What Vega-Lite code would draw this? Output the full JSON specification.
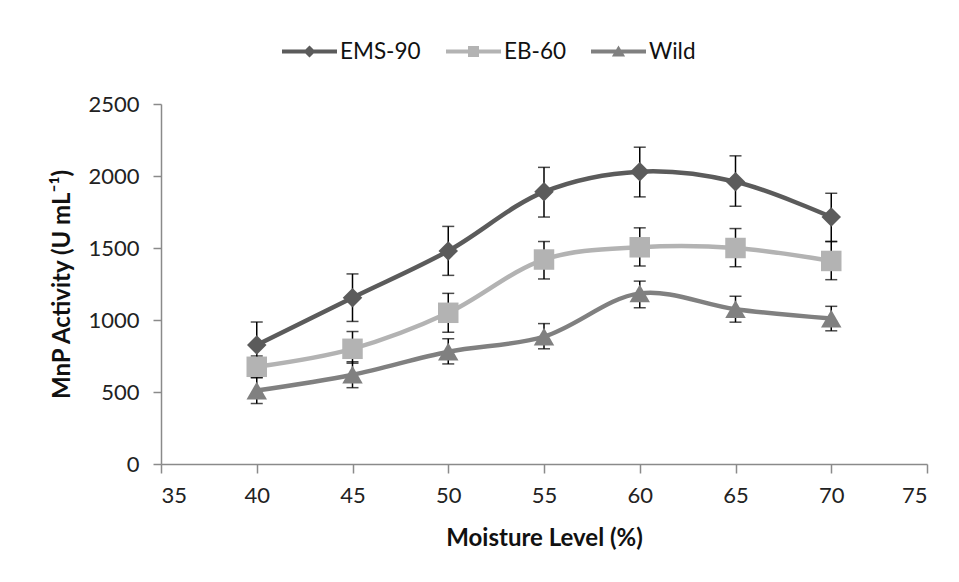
{
  "$schema": "https://vega.github.io/schema/vega-lite/v6.json",
  "width": 766,
  "height": 360,
  "autosize": {"type": "none"},
  "padding": {"left": 161, "top": 104, "right": 32, "bottom": 118},
  "background": "white",
  "config": {
    "font": "Lato",
    "view": {"stroke": null},
    "axis": {
      "domainColor": "#8a8a8a",
      "domainWidth": 1.5,
      "tickColor": "#8a8a8a",
      "tickWidth": 1.5,
      "grid": false,
      "labelFont": "Lato",
      "labelFontSize": 22,
      "labelColor": "#222222",
      "titleFont": "Lato",
      "titleFontSize": 24,
      "titleFontWeight": "bold",
      "titleColor": "#111111"
    }
  },
  "data": {
    "values": [
      {"series": "EMS-90", "x": 40, "y": 826, "lo": 666, "hi": 986},
      {"series": "EMS-90", "x": 45, "y": 1155, "lo": 990, "hi": 1320},
      {"series": "EMS-90", "x": 50, "y": 1480, "lo": 1310, "hi": 1650},
      {"series": "EMS-90", "x": 55, "y": 1890, "lo": 1715, "hi": 2060},
      {"series": "EMS-90", "x": 60, "y": 2030, "lo": 1855, "hi": 2200},
      {"series": "EMS-90", "x": 65, "y": 1960, "lo": 1790, "hi": 2140},
      {"series": "EMS-90", "x": 70, "y": 1715, "lo": 1545, "hi": 1880},
      {"series": "EB-60", "x": 40, "y": 675, "lo": 600, "hi": 750},
      {"series": "EB-60", "x": 45, "y": 800, "lo": 700, "hi": 920},
      {"series": "EB-60", "x": 50, "y": 1050, "lo": 915, "hi": 1185},
      {"series": "EB-60", "x": 55, "y": 1420, "lo": 1285, "hi": 1545},
      {"series": "EB-60", "x": 60, "y": 1505, "lo": 1375, "hi": 1640},
      {"series": "EB-60", "x": 65, "y": 1500, "lo": 1370, "hi": 1635},
      {"series": "EB-60", "x": 70, "y": 1410, "lo": 1280, "hi": 1545},
      {"series": "Wild", "x": 40, "y": 510, "lo": 420, "hi": 600},
      {"series": "Wild", "x": 45, "y": 620, "lo": 530, "hi": 710},
      {"series": "Wild", "x": 50, "y": 780, "lo": 695, "hi": 870},
      {"series": "Wild", "x": 55, "y": 885, "lo": 800, "hi": 975},
      {"series": "Wild", "x": 60, "y": 1185, "lo": 1085, "hi": 1270},
      {"series": "Wild", "x": 65, "y": 1075, "lo": 985, "hi": 1165},
      {"series": "Wild", "x": 70, "y": 1010, "lo": 925, "hi": 1095}
    ]
  },
  "encoding": {
    "x": {
      "field": "x", "type": "quantitative",
      "scale": {"domain": [35, 75], "nice": false, "zero": false},
      "axis": {"values": [35, 40, 45, 50, 55, 60, 65, 70, 75], "tickSize": 9, "labelPadding": 12, "title": "Moisture Level (%)", "titlePadding": 20}
    },
    "y": {
      "field": "y", "type": "quantitative",
      "title": "MnP Activity (U mL⁻¹)",
      "scale": {"domain": [0, 2500], "nice": false},
      "axis": {"values": [0, 500, 1000, 1500, 2000, 2500], "format": "d", "tickSize": 8, "labelPadding": 14, "titlePadding": 13}
    }
  },
  "layer": [
    {
      "transform": [{"filter": "datum.series === 'EMS-90'"}],
      "mark": {"type": "line", "strokeWidth": 4.5, "interpolate": "catmull-rom", "color": "#5b5b5b"},
      "encoding": {}
    },
    {
      "transform": [{"filter": "datum.series === 'EB-60'"}],
      "mark": {"type": "line", "strokeWidth": 4.5, "interpolate": "catmull-rom", "color": "#b3b3b3"},
      "encoding": {}
    },
    {
      "transform": [{"filter": "datum.series === 'Wild'"}],
      "mark": {"type": "line", "strokeWidth": 4.5, "interpolate": "catmull-rom", "color": "#808080"},
      "encoding": {}
    },
    {
      "mark": {"type": "errorbar", "color": "black", "thickness": 1.5, "ticks": {"size": 12, "thickness": 1.5, "color": "black"}},
      "encoding": {
        "y": {"field": "lo", "type": "quantitative", "title": "MnP Activity (U mL⁻¹)"},
        "y2": {"field": "hi"}
      }
    },
    {
      "transform": [{"filter": "datum.series === 'EMS-90'"}],
      "mark": {"type": "point", "shape": "diamond", "filled": true, "opacity": 1, "size": 380, "color": "#5b5b5b"},
      "encoding": {}
    },
    {
      "transform": [{"filter": "datum.series === 'EB-60'"}],
      "mark": {"type": "point", "shape": "square", "filled": true, "opacity": 1, "size": 420, "color": "#b3b3b3"},
      "encoding": {}
    },
    {
      "transform": [{"filter": "datum.series === 'Wild'"}],
      "mark": {"type": "point", "shape": "triangle-up", "filled": true, "opacity": 1, "size": 420, "color": "#808080"},
      "encoding": {}
    },
    {
      "transform": [{"filter": "datum.x < 0"}],
      "mark": {"type": "point", "filled": true, "opacity": 1},
      "encoding": {
        "color": {
          "field": "series", "type": "nominal",
          "scale": {"domain": ["EMS-90", "EB-60", "Wild"], "range": ["#5b5b5b", "#b3b3b3", "#808080"]},
          "legend": {
            "title": null, "orient": "none", "direction": "horizontal",
            "legendX": 121, "legendY": -80, "padding": 0,
            "symbolSize": 3025, "symbolStrokeWidth": 0, "symbolOpacity": 1,
            "labelFont": "Lato", "labelFontSize": 22.5, "labelColor": "#111111",
            "labelOffset": 3, "columnPadding": 25
          }
        },
        "shape": {
          "field": "series", "type": "nominal",
          "scale": {
            "domain": ["EMS-90", "EB-60", "Wild"],
            "range": [
              "M-1,-0.075L1,-0.075L1,0.075L-1,0.075Z M0,-0.22L0.22,0L0,0.22L-0.22,0Z",
              "M-1,-0.075L1,-0.075L1,0.075L-1,0.075Z M-0.2,-0.2L0.2,-0.2L0.2,0.2L-0.2,0.2Z",
              "M-1,-0.075L1,-0.075L1,0.075L-1,0.075Z M0,-0.22L0.24,0.18L-0.24,0.18Z"
            ]
          },
          "legend": {
            "title": null, "orient": "none", "direction": "horizontal",
            "legendX": 121, "legendY": -80, "padding": 0,
            "symbolSize": 3025, "symbolStrokeWidth": 0, "symbolOpacity": 1,
            "labelFont": "Lato", "labelFontSize": 22.5, "labelColor": "#111111",
            "labelOffset": 3, "columnPadding": 25
          }
        }
      }
    }
  ]
}
